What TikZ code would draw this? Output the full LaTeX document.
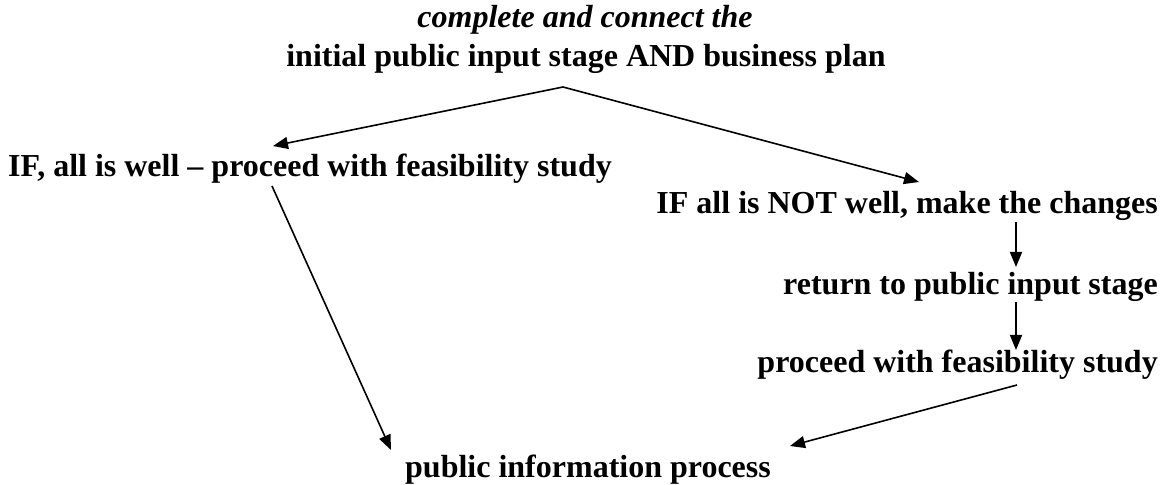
\documentclass[tikz,border=0pt]{standalone}
\usepackage{fontspec}
\setmainfont{Liberation Serif}
\usetikzlibrary{arrows.meta}
\tikzset{
  lbl/.style={inner sep=0pt, font=\fontsize{32bp}{37bp}\selectfont\bfseries},
  ttl/.style={inner sep=0pt, font=\fontsize{32bp}{37bp}\selectfont\bfseries\itshape},
  arr/.style={line width=1.6bp, -{Triangle[length=15bp,width=12bp]}}
}
\begin{document}
\begin{tikzpicture}[x=1bp,y=-1bp]
\useasboundingbox (0,0) rectangle (1171,485);
\node[ttl, anchor=base] (t1) at (585,28) {complete and connect the};
\node[lbl, anchor=base] (t2) at (586,67) {initial public input stage AND business plan};
\node[lbl, anchor=base west] (n1) at (8,177) {IF, all is well -- proceed with feasibility study};
\node[lbl, anchor=base east] (n2) at (1158,214) {IF all is NOT well, make the changes};
\node[lbl, anchor=base east] (n3) at (1158,295) {return to public input stage};
\node[lbl, anchor=base east] (n4) at (1158,373) {proceed with feasibility study};
\node[lbl, anchor=base] (n5) at (588,477) {public information process};
\coordinate (apex) at (563,87);
\coordinate (l1) at (273,146);
\coordinate (r1) at (919,182);
\coordinate (d1s) at (272,186);
\coordinate (d1e) at (391,450);
\coordinate (v1s) at (1016,222);
\coordinate (v1e) at (1016,267);
\coordinate (v2s) at (1016,302);
\coordinate (v2e) at (1016,350);
\coordinate (d2s) at (1017,385);
\coordinate (d2e) at (790,446);
\draw[arr] (apex) -- (l1);
\draw[arr] (apex) -- (r1);
\draw[arr] (d1s) -- (d1e);
\draw[arr] (v1s) -- (v1e);
\draw[arr] (v2s) -- (v2e);
\draw[arr] (d2s) -- (d2e);
\end{tikzpicture}
\end{document}
